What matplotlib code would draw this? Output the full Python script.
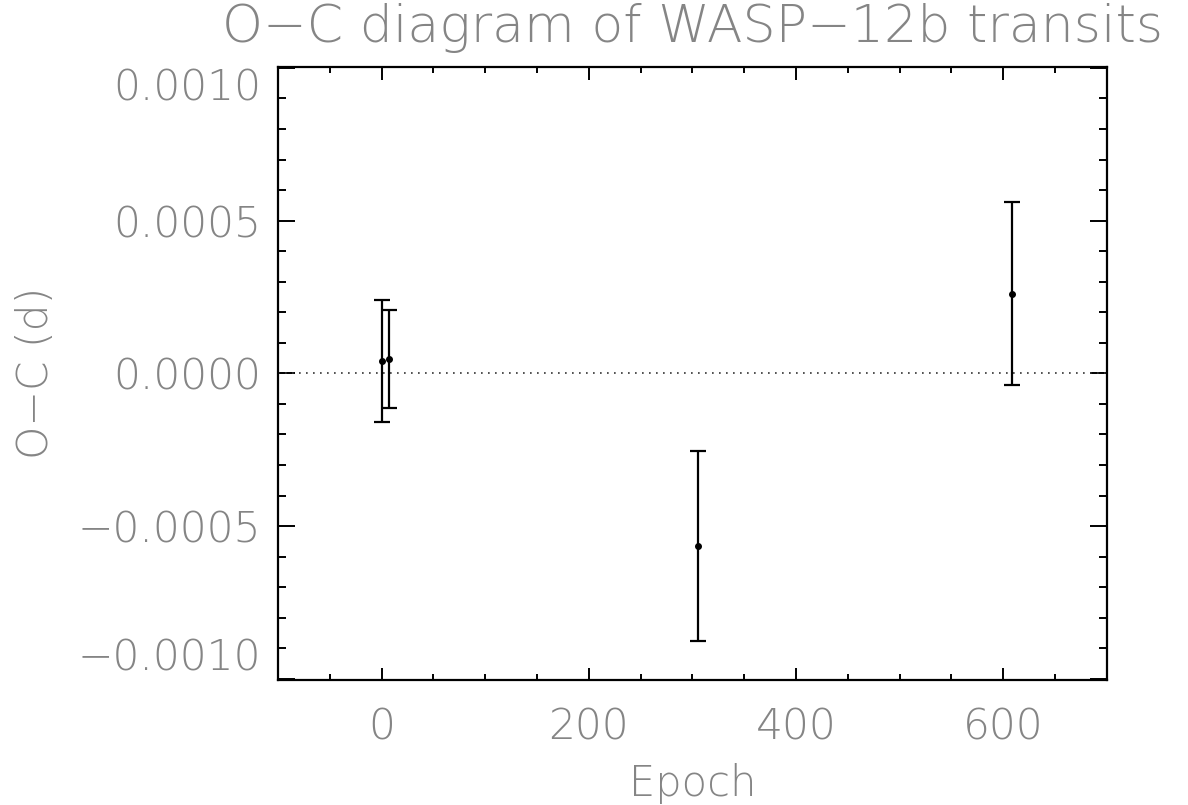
import matplotlib
matplotlib.use("Agg")
import matplotlib.pyplot as plt
from matplotlib.ticker import MultipleLocator, FuncFormatter

# O-C timing residuals of WASP-12b transits
epoch = [0, 7, 305, 609]
oc = [0.000040, 0.000047, -0.000566, 0.000261]
oc_err = [0.000200, 0.000160, 0.000311, 0.000300]
ytick_vals = [-0.0010, -0.0005, 0.0, 0.0005, 0.0010]
xtick_vals = [0, 200, 400, 600]

txt = dict(family="DejaVu Sans", weight=200, color="#858585")

fig = plt.figure(figsize=(11.88, 8.05), dpi=100)
ax = fig.add_axes([0.234, 0.1553, 0.6976, 0.7618])

ax.axhline(0.0, color="#333333", lw=1.2, dashes=[1, 3.2])
ax.errorbar(epoch, oc, yerr=oc_err, fmt="o", color="black", ms=4,
            elinewidth=1.6, capsize=6, capthick=1.6)

ax.set_xlim(-100, 700)
ax.set_ylim(-0.001004, 0.001004)
ax.set_xticks(xtick_vals)
ax.xaxis.set_minor_locator(MultipleLocator(50))
ax.set_yticks(ytick_vals)
ax.yaxis.set_minor_locator(MultipleLocator(0.0001))
ax.yaxis.set_major_formatter(FuncFormatter(lambda v, p: ("%.4f" % v).replace("-", "\u2212")))
ax.xaxis.set_major_formatter(FuncFormatter(lambda v, p: "%d" % v))

for s in ax.spines.values():
    s.set_linewidth(1.6)
ax.tick_params(axis="both", which="both", direction="in", top=True, right=True, width=1.4, colors="black")
ax.tick_params(axis="x", which="major", length=9, pad=19)
ax.tick_params(axis="x", which="minor", length=4.5)
ax.tick_params(axis="y", which="major", length=12.5, pad=12)
ax.tick_params(axis="y", which="minor", length=6)

for lab in ax.get_xticklabels() + ax.get_yticklabels():
    lab.set_fontsize(30.5)
    lab.set_fontfamily(txt["family"])
    lab.set_fontweight(txt["weight"])
    lab.set_color(txt["color"])

ylabs = ax.get_yticklabels()
ylabs[0].set_va("bottom")
ylabs[-1].set_va("top")

ax.set_title("O\u2212C diagram of WASP\u221212b transits", fontsize=37.5, pad=18, **txt)
ax.set_xlabel("Epoch", fontsize=30, labelpad=11, **txt)
ax.set_ylabel("O\u2212C (d)", fontsize=30.5, labelpad=16, **txt)

fig.savefig("out.png", dpi=100)
